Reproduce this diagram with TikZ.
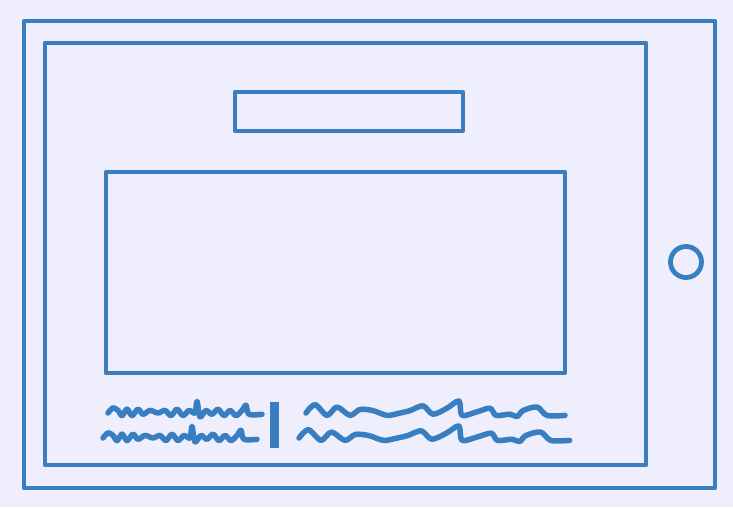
\documentclass[tikz,border=0pt]{standalone}
\usepackage{tikz}
\definecolor{tabletblue}{RGB}{56,126,192}
\definecolor{tabletbg}{RGB}{238,238,252}
\begin{document}
\begin{tikzpicture}[x=1pt, y=-1pt, line join=round,
outline/.style={draw=tabletblue, line width=4.8pt},
scribble/.style={draw=tabletblue, line width=5.5pt, line cap=round}
]
    % Background
    \fill[tabletbg] (0,0) rectangle (733,507);
    \useasboundingbox (0,0) rectangle (733,507);

    % Tablet body, screen and home button
    \draw[outline] (24,21) rectangle (715,488);
    \draw[outline] (45,43) rectangle (646,465);
    \draw[outline] (686,262) circle (15.5);

    % Title bar and picture frame
    \draw[outline] (235,92) rectangle (463,131);
    \draw[outline] (106,172) rectangle (565,373);

    % Caption scribbles, left column
    \foreach \dx/\dy in {108/413, 103/438}
        \draw[scribble, shift={(\dx,\dy)}, yscale=1.3] plot[smooth, tension=0.5] coordinates {
            (0,0) (5,-4) (10,-2) (14,2) (19,-3) (24,2) (30,-3) (35,1)
            (42,-2) (50,0) (57,-2) (63,2) (69,-3) (75,2) (81,-2) (87,0)
            (89,-9) (92,3) (98,-2) (104,1) (110,-3) (116,2) (122,-2)
            (128,2) (134,-2) (138,-6) (141,1) (154,1)};

    % Separator
    \fill[tabletblue] (270,402) rectangle (279,448);

    % Caption scribbles, right column
    \foreach \dx/\dy/\s in {306/413/1, 299/438/1.045}
        \draw[scribble, shift={(\dx,\dy)}, xscale=\s, yscale=1.2] plot[smooth, tension=0.5] coordinates {
            (0,0) (9,-7) (21,2) (31,-5) (44,2) (54,-3) (67,-2) (81,2)
            (94,0) (104,-2) (117,-6) (127,1) (141,-4) (153,-10) (156,2)
            (171,-1) (184,-4) (190,2) (204,1) (211,3) (217,-2) (231,-5)
            (241,2) (259,2)};
\end{tikzpicture}
\end{document}
